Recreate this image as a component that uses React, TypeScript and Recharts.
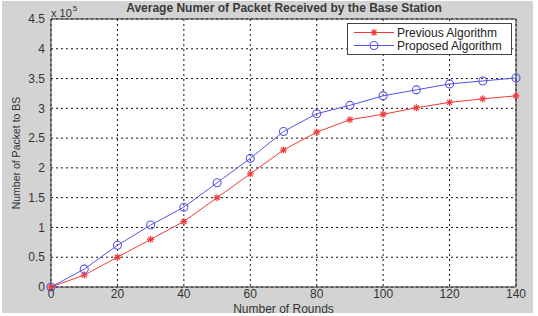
import React from "react";
import {
  LineChart,
  Line,
  XAxis,
  YAxis,
  CartesianGrid,
  ReferenceLine,
  Legend,
} from "recharts";

// rounds, packets received (x 10^5)
const rounds = [0, 10, 20, 30, 40, 50, 60, 70, 80, 90, 100, 110, 120, 130, 140];
const previousAlgo = [0, 0.2, 0.5, 0.8, 1.1, 1.5, 1.9, 2.3, 2.6, 2.81, 2.9, 3.01, 3.1, 3.16, 3.21];
const proposedAlgo = [0, 0.3, 0.7, 1.04, 1.34, 1.75, 2.16, 2.61, 2.91, 3.05, 3.21, 3.31, 3.41, 3.46, 3.51];

const xTicks = [0, 20, 40, 60, 80, 100, 120, 140];
const yTicks = [0, 0.5, 1, 1.5, 2, 2.5, 3, 3.5, 4, 4.5];

const seriesNames = ["Previous Algorithm", "Proposed Algorithm"];

const RED = "#f03a3a";
const BLUE = "#5555e6";
const FONT = "'Liberation Sans', Arial, sans-serif";

const data = rounds.map((r, i) => ({
  round: r,
  previous: previousAlgo[i],
  proposed: proposedAlgo[i],
}));

function StarDot(props: any) {
  const { cx, cy } = props;
  if (cx == null || cy == null) return null;
  const r = 3.5;
  const d = 2.5;
  return (
    <g stroke={RED} strokeWidth={1.2}>
      <line x1={cx - r} y1={cy} x2={cx + r} y2={cy} />
      <line x1={cx} y1={cy - r} x2={cx} y2={cy + r} />
      <line x1={cx - d} y1={cy - d} x2={cx + d} y2={cy + d} />
      <line x1={cx - d} y1={cy + d} x2={cx + d} y2={cy - d} />
    </g>
  );
}

function CircleDot(props: any) {
  const { cx, cy } = props;
  if (cx == null || cy == null) return null;
  return <circle cx={cx} cy={cy} r={4} fill="none" stroke={BLUE} strokeWidth={1.1} />;
}

function LegendBox() {
  const rows = [
    { name: seriesNames[0], color: RED, marker: "star" },
    { name: seriesNames[1], color: BLUE, marker: "circle" },
  ];
  return (
    <div
      style={{
        border: "1px solid #444",
        background: "#fff",
        width: 163,
        height: 28,
        boxSizing: "content-box",
        fontFamily: FONT,
        fontSize: 12,
        color: "#222",
        paddingTop: 2,
      }}
    >
      {rows.map((row) => (
        <div key={row.name} style={{ display: "flex", alignItems: "center", height: 13 }}>
          <svg width={49} height={13}>
            <line x1={6} y1={6.5} x2={46} y2={6.5} stroke={row.color} strokeWidth={1} />
            {row.marker === "star" ? (
              <StarDot cx={26} cy={6.5} />
            ) : (
              <CircleDot cx={26} cy={6.5} />
            )}
          </svg>
          <span>{row.name}</span>
        </div>
      ))}
    </div>
  );
}

const fmtY = (v: number) => String(v);

export default function App() {
  return (
    <div style={{ position: "fixed", left: 0, top: 0, width: 538, height: 316, background: "#fff" }}>
      <div
        style={{
          position: "absolute",
          left: 2,
          top: 1,
          width: 531,
          height: 312,
          background: "#d3d3d3",
        }}
      />
      <div
        style={{
          position: "absolute",
          left: 51,
          width: 466,
          top: 1,
          textAlign: "center",
          fontFamily: FONT,
          fontSize: 12,
          fontWeight: "bold",
          color: "#3a3a3a",
        }}
      >
        Average Numer of Packet Received by the Base Station
      </div>
      <div
        style={{
          position: "absolute",
          left: 51,
          top: 5,
          fontFamily: FONT,
          fontSize: 11,
          color: "#333",
          whiteSpace: "nowrap",
        }}
      >
        x 10<sup style={{ fontSize: 8, position: "relative", top: -1, marginLeft: 1 }}>5</sup>
      </div>
      <div style={{ position: "absolute", left: 0, top: 0 }}>
        <LineChart
          width={538}
          height={316}
          data={data}
          margin={{ top: 19, right: 22, bottom: 0, left: 0 }}
        >
          <CartesianGrid
            stroke="#111"
            strokeDasharray="2 3"
            fill="#fff"
            fillOpacity={1}
            horizontalValues={yTicks}
            verticalValues={xTicks}
          />
          <XAxis
            dataKey="round"
            type="number"
            domain={[0, 140]}
            ticks={xTicks}
            height={29}
            axisLine={{ stroke: "#333" }}
            tickLine={false}
            tickSize={2}
            tickMargin={0}
            tick={{ fill: "#333", fontSize: 12, fontFamily: FONT }}
            label={{
              value: "Number of Rounds",
              position: "insideBottom",
              offset: 3,
              fill: "#333",
              fontSize: 12,
              fontFamily: FONT,
            }}
          />
          <YAxis
            type="number"
            domain={[0, 4.5]}
            ticks={yTicks}
            width={51}
            axisLine={{ stroke: "#333" }}
            tickLine={false}
            tickSize={4}
            tickMargin={2}
            tickFormatter={fmtY}
            tick={{ fill: "#333", fontSize: 12, fontFamily: FONT }}
            label={{
              value: "Number of Packet to BS",
              angle: -90,
              position: "insideLeft",
              offset: 16,
              style: { textAnchor: "middle" },
              fill: "#333",
              fontSize: 10.5,
              fontFamily: FONT,
            }}
          />
          <ReferenceLine y={4.5} stroke="#333" />
          <ReferenceLine x={140} stroke="#333" />
          <Legend
            layout="vertical"
            align="center"
            verticalAlign="middle"
            wrapperStyle={{ position: "absolute", left: 347, top: 23, width: 165 }}
            content={() => <LegendBox />}
          />
          <Line
            type="linear"
            dataKey="previous"
            name={seriesNames[0]}
            stroke={RED}
            strokeWidth={1}
            dot={<StarDot />}
            isAnimationActive={false}
          />
          <Line
            type="linear"
            dataKey="proposed"
            name={seriesNames[1]}
            stroke={BLUE}
            strokeWidth={1}
            dot={<CircleDot />}
            isAnimationActive={false}
          />
        </LineChart>
      </div>
    </div>
  );
}
